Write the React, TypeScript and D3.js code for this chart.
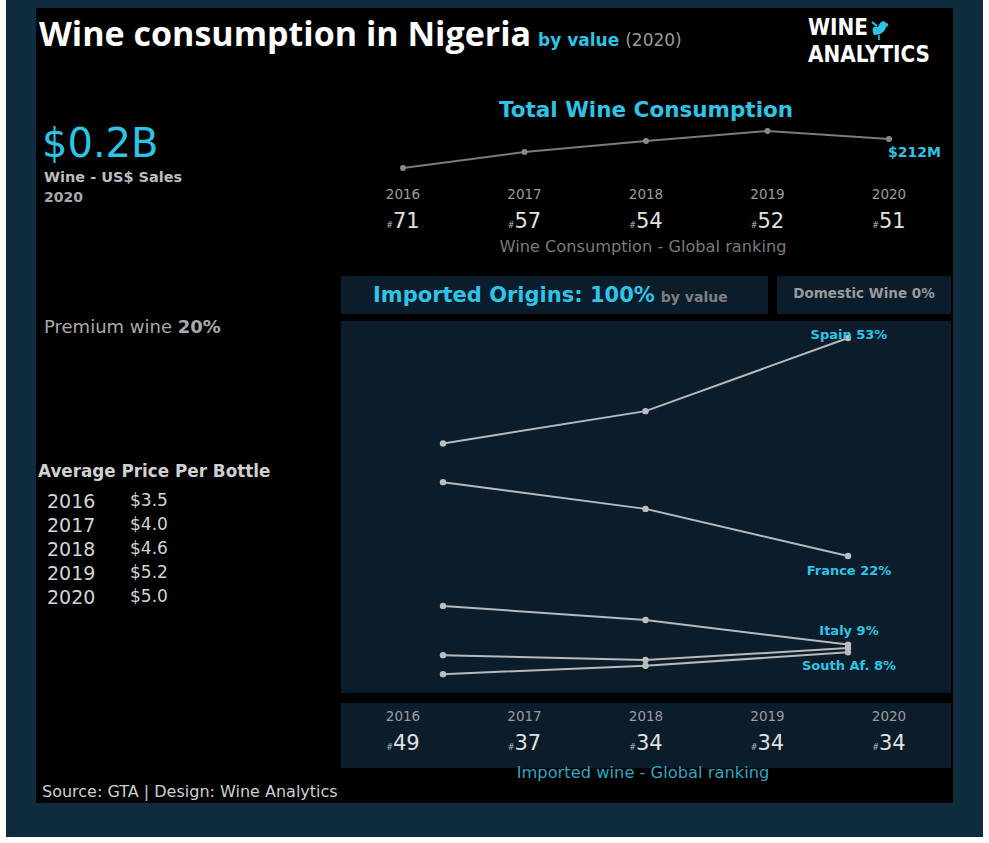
import React from "react";
import * as d3 from "d3";

const years = ["2016", "2017", "2018", "2019", "2020"];
const totalConsumption = [154, 186, 208, 228, 212]; // US$ M
const consumptionRank = [71, 57, 54, 52, 51];
const importRank = [49, 37, 34, 34, 34];
const avgPrice = ["$3.5", "$4.0", "$4.6", "$5.2", "$5.0"];

const originYears = ["2016", "2018", "2020"];
const spain = [38.0, 42.6, 53.0];
const france = [32.5, 28.7, 22.0];
const italy = [14.9, 12.9, 9.4];
const other = [7.9, 7.2, 8.9];
const southAfrica = [5.2, 6.4, 8.3];

const originSeries = [
  { name: "Spain", values: spain },
  { name: "France", values: france },
  { name: "Italy", values: italy },
  { name: "Other", values: other },
  { name: "South Africa", values: southAfrica },
];
const originLabels = [
  { text: "Spain 53%", y: 339 },
  { text: "France 22%", y: 575 },
  { text: "Italy 9%", y: 635 },
  { text: "South Af. 8%", y: 670 },
];

const CYAN = "#2ec4e6";
const OPEN = "'Open Sans', 'Noto Sans', sans-serif";
const DV = "'DejaVu Sans', sans-serif";

export default function App() {
  const xTop = d3.scalePoint<string>().domain(years).range([403, 889]);
  const yTop = d3.scaleLinear().domain([150, 230]).range([170, 130]);
  const topLine = d3
    .line<number>()
    .x((_, i) => xTop(years[i]) as number)
    .y((d) => yTop(d));

  const xO = d3.scalePoint<string>().domain(originYears).range([443, 848]);
  const yO = d3.scaleLinear().domain([0, 53]).range([710.7, 338]);
  const oLine = d3
    .line<number>()
    .x((_, i) => xO(originYears[i]) as number)
    .y((d) => yO(d));

  const rankText = (r: number, x: number, y: number, key: string) => (
    <text key={key} x={x} y={y} textAnchor="middle" fontFamily={DV} fontSize={21} fill="#e2e2e2">
      <tspan fontSize={8} fill="#bbb">#</tspan>
      {r}
    </text>
  );

  return (
    <svg
      width={989}
      height={843}
      style={{ position: "absolute", left: 0, top: 0, background: "#ffffff" }}
    >
      <rect x={6} y={0} width={977} height={837} fill="#0f2c3f" />
      <rect x={36} y={8} width={917} height={795} fill="#000000" />

      {/* Title */}
      <text x={39} y={46} fontFamily={OPEN} fontWeight={700} fontSize={34} fill="#ffffff">
        Wine consumption in Nigeria
      </text>
      <text x={538} y={46} fontFamily={DV} fontWeight={700} fontSize={17} fill={CYAN}>
        by value
        <tspan dx={6} fontWeight={400} fill="#9a9a9a">(2020)</tspan>
      </text>

      {/* Logo */}
      <g fontFamily="'Liberation Sans Narrow', 'DejaVu Sans Condensed', sans-serif" fontWeight={700} fill="#ffffff">
        <text transform="translate(808,35) scale(1,1.4)" fontSize={16} textLength={60} lengthAdjust="spacingAndGlyphs">WINE</text>
        <text transform="translate(808,62) scale(1,1.4)" fontSize={16} textLength={122} lengthAdjust="spacingAndGlyphs">ANALYTICS</text>
      </g>
      <path
        d="M874,35 C871,29 873,25 878,27 C880,21 884,20 886,23 C889,23 889,26 886,27 C885,31 882,35 874,35 Z"
        fill={CYAN}
      />
      <path d="M872,22 L877,26" stroke={CYAN} strokeWidth={2} />
      <line x1={879} y1={35} x2={879} y2={40} stroke={CYAN} strokeWidth={1.5} />

      {/* KPI */}
      <text x={42} y={157} fontFamily={DV} fontSize={40} fill={CYAN}>$0.2B</text>
      <text x={44} y={182} fontFamily={DV} fontWeight={700} fontSize={14.5} fill="#bdbdbd">Wine  - US$ Sales</text>
      <text x={44} y={202} fontFamily={DV} fontSize={14} fontWeight={700} fill="#a9a9a9">2020</text>

      {/* Total Wine Consumption */}
      <text x={646} y={117} textAnchor="middle" fontFamily={DV} fontWeight={700} fontSize={21.5} fill={CYAN}>
        Total Wine Consumption
      </text>
      <path d={topLine(totalConsumption) as string} fill="none" stroke="#7b7b7b" strokeWidth={2} />
      {totalConsumption.map((v, i) => (
        <circle key={i} cx={xTop(years[i])} cy={yTop(v)} r={3} fill="#8a8a8a" />
      ))}
      <text x={888} y={157} fontFamily={DV} fontWeight={700} fontSize={14} fill={CYAN}>$212M</text>
      {years.map((yr) => (
        <text key={yr} x={xTop(yr)} y={199} textAnchor="middle" fontFamily={DV} fontSize={13.5} fill="#9c9c9c">
          {yr}
        </text>
      ))}
      {consumptionRank.map((r, i) => rankText(r, xTop(years[i]) as number, 228, "cr" + i))}
      <text x={643} y={252} textAnchor="middle" fontFamily={DV} fontSize={16.2} fill="#7a7a7a">
        Wine Consumption - Global ranking
      </text>

      {/* Left side */}
      <text x={44} y={333} fontFamily={DV} fontSize={18} fill="#a9a9a9">
        Premium wine <tspan fontWeight={700}>20%</tspan>
      </text>
      <text x={38} y={477} fontFamily={DV} fontWeight={700} fontSize={16.8} fill="#d0d0d0">
        Average Price Per Bottle
      </text>
      {years.map((yr, i) => (
        <g key={"p" + yr}>
          <text x={47} y={508 + i * 24} fontFamily={DV} fontSize={19} fill="#d4d4d4">{yr}</text>
          <text x={130} y={506 + i * 24} fontFamily={DV} fontSize={17} fill="#d4d4d4">{avgPrice[i]}</text>
        </g>
      ))}

      {/* Imported origins header */}
      <rect x={341} y={276} width={427} height={38} fill="#0b1d2b" />
      <text x={373} y={302} fontFamily={DV} fontWeight={700} fontSize={21} fill={CYAN}>
        Imported Origins: 100%
        <tspan dx={6} fontSize={14} fill="#7f7f7f">by value</tspan>
      </text>
      <rect x={777} y={276} width={174} height={38} fill="#0b1d2b" />
      <text x={864} y={298} textAnchor="middle" fontFamily={DV} fontWeight={700} fontSize={13.5} fill="#9a9a9a">
        Domestic Wine 0%
      </text>

      {/* Origins line chart */}
      <rect x={341} y={321} width={610} height={372} fill="#0b1d2b" />
      {originSeries.map((s) => (
        <g key={s.name}>
          <path d={oLine(s.values) as string} fill="none" stroke="#b9b9b9" strokeWidth={2} />
          {s.values.map((v, i) => (
            <circle key={i} cx={xO(originYears[i])} cy={yO(v)} r={3.2} fill="#bdbdbd" />
          ))}
        </g>
      ))}
      {originLabels.map((l) => (
        <text key={l.text} x={849} y={l.y} textAnchor="middle" fontFamily={DV} fontWeight={700} fontSize={13} fill={CYAN}>
          {l.text}
        </text>
      ))}

      {/* Import ranking */}
      <rect x={341} y={703} width={610} height={65} fill="#0b1d2b" />
      {years.map((yr) => (
        <text key={"iy" + yr} x={xTop(yr)} y={721} textAnchor="middle" fontFamily={DV} fontSize={13.5} fill="#9c9c9c">
          {yr}
        </text>
      ))}
      {importRank.map((r, i) => rankText(r, xTop(years[i]) as number, 750, "ir" + i))}
      <text x={643} y={778} textAnchor="middle" fontFamily={DV} fontSize={16.3} fill="#26a9c8">
        Imported wine - Global ranking
      </text>

      <text x={42} y={797} fontFamily={DV} fontSize={16} fill="#cfcfcf">
        Source: GTA  |  Design: Wine Analytics
      </text>
    </svg>
  );
}
